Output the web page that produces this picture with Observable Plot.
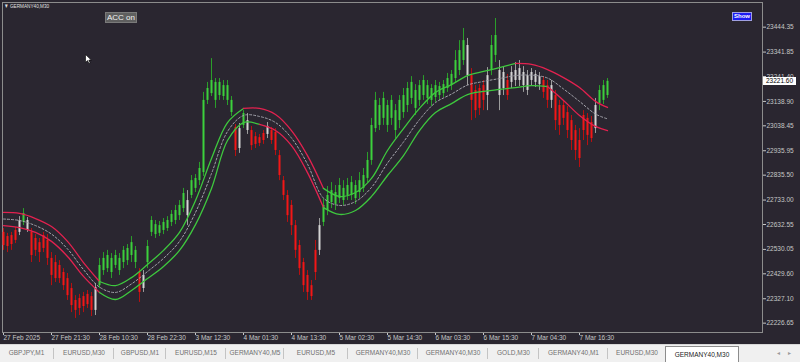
<!DOCTYPE html>
<html><head><meta charset="utf-8">
<script src="https://cdn.jsdelivr.net/npm/d3@7"></script>
<script src="https://cdn.jsdelivr.net/npm/@observablehq/plot@0.6"></script>
<style>
html,body{margin:0;padding:0;background:#2a2630;}
#wrap{position:relative;width:800px;height:362px;overflow:hidden;background:#2a2630;font-family:"Liberation Sans",Arial,sans-serif;}
#chart{position:absolute;left:0;top:0;}
.hdr{position:absolute;left:4px;top:3px;color:#e0e0e0;font-size:6px;line-height:7px;white-space:nowrap;transform:scaleX(0.78);transform-origin:left top;}
.acc{position:absolute;left:105px;top:12px;width:32px;height:11px;background:#5f5f5f;border:1px solid #7a7a7a;box-sizing:border-box;color:#f2f2f2;font-size:8px;line-height:10px;text-align:center;}
.show{position:absolute;left:732px;top:12px;width:20px;height:9px;background:#1c1cf2;border:1px solid #a0a0e0;box-sizing:border-box;color:#fff;font-size:6px;font-weight:bold;line-height:7px;text-align:center;}
.price{position:absolute;left:763px;width:33px;height:8px;background:#fff;color:#000;font-size:6.5px;line-height:8px;text-align:center;}
#tabs{position:absolute;left:0;top:344px;width:800px;height:18px;background:#f0f0f0;border-top:1px solid #d8d8d8;box-sizing:border-box;}
.tab{position:absolute;top:0;height:17px;line-height:16px;font-size:6.5px;color:#707070;text-align:center;white-space:nowrap;}
.tab.sep{border-left:1px solid #c4c4c4;height:11px;top:3px;line-height:10px;}
.tab.active{background:#fff;border:1px solid #8c8c8c;border-bottom:none;color:#222;top:1px;height:16px;line-height:15px;}
.arr{position:absolute;top:4px;font-size:6px;color:#9a9a9a;}
</style></head><body>
<div id="wrap">
  <div id="chart"></div>
  <div class="hdr">▼ GERMANY40,M30</div>
  <div class="acc">ACC on</div>
  <div class="show">Show</div>
  <svg style="position:absolute;left:85px;top:54px" width="8" height="11"><path d="M0.5,0.5 L0.5,8.5 L2.5,6.6 L4,9.6 L5.2,9 L3.8,6.1 L6.3,6.1 Z" fill="#fff" stroke="#000" stroke-width="0.6"/></svg>
  <div id="tabs"></div>
</div>
<script>
// ---- time axis ----
const tickIdx = [0,12,24,36,48,60,72,84,96,108,120,132,144];
const tickLabels = ["27 Feb 2025","27 Feb 21:30","28 Feb 10:30","28 Feb 22:30","3 Mar 12:30","4 Mar 01:30","4 Mar 13:30","5 Mar 02:30","5 Mar 14:30","6 Mar 03:30","6 Mar 15:30","7 Mar 04:30","7 Mar 16:30"];
// ---- price axis ----
const priceTicks = [23444.35,23341.85,23241.40,23138.90,23038.45,22935.95,22835.50,22733.00,22632.55,22530.05,22429.60,22327.10,22226.65];
const lastPrice = 23221.60;
// ---- candles (GERMANY40, M30) ----
const open = [22600,22583,22587,22608,22600,22641,22649,22600,22575,22558,
22587,22567,22493,22476,22464,22435,22410,22369,22320,22328,
22336,22345,22336,22279,22381,22443,22451,22435,22464,22443,
22476,22484,22505,22476,22435,22369,22476,22600,22591,22596,
22608,22616,22641,22649,22669,22698,22731,22752,22781,22813,
22846,23143,23171,23143,23163,23159,23143,23093,23032,22945,
23040,23060,23019,22994,22990,23007,23003,23019,23011,22916,
22813,22752,22711,22628,22546,22476,22423,22381,22526,22526,
22641,22690,22723,22715,22739,22731,22752,22752,22739,22764,
22781,22822,22896,23027,23040,23069,23040,23069,23019,23060,
23093,23122,23151,23110,23143,23163,23151,23143,23155,23163,
23171,23192,23204,23233,23266,23307,23369,23245,23184,23192,
23204,23163,23266,23328,23266,23192,23225,23217,23225,23274,
23258,23184,23258,23250,23241,23225,23204,23143,23163,23122,
23122,23093,23060,23019,22978,23081,23069,23052,23027,23130,
23143,23163];
const high = [22616,22596,22600,22620,22665,22698,22661,22616,22591,22575,
22600,22591,22517,22505,22484,22451,22431,22390,22340,22345,
22353,22361,22353,22390,22493,22517,22526,22513,22526,22513,
22542,22550,22583,22542,22451,22443,22567,22665,22649,22645,
22657,22665,22690,22711,22731,22781,22772,22834,22838,22888,
23176,23217,23315,23233,23233,23225,23225,23159,23044,23048,
23101,23089,23036,23011,23003,23019,23052,23032,23027,22937,
22830,22772,22731,22649,22567,22493,22443,22402,22567,22657,
22739,22789,22805,22793,22822,22813,22822,22830,22813,22846,
22863,22929,23069,23176,23151,23176,23143,23163,23126,23163,
23192,23217,23241,23208,23225,23245,23225,23208,23225,23217,
23225,23254,23266,23348,23389,23439,23398,23274,23204,23208,
23225,23278,23410,23480,23307,23282,23250,23282,23299,23307,
23282,23266,23274,23266,23258,23241,23225,23225,23184,23143,
23143,23118,23081,23040,23027,23101,23089,23077,23151,23204,
23225,23233];
const low = [22526,22517,22526,22554,22587,22628,22600,22476,22501,22476,
22517,22464,22381,22394,22390,22361,22320,22270,22246,22258,
22270,22287,22254,22258,22369,22423,22435,22410,22451,22423,
22451,22464,22476,22451,22312,22353,22451,22583,22575,22583,
22591,22604,22624,22632,22649,22682,22628,22739,22764,22793,
22830,23126,23159,23110,23143,23143,23122,23077,22912,22925,
23027,23003,22937,22945,22953,22962,22986,22962,22916,22813,
22731,22641,22587,22493,22423,22353,22320,22320,22402,22505,
22624,22669,22698,22690,22719,22711,22731,22731,22715,22739,
22764,22805,22876,23011,23019,23040,23011,23040,22986,23027,
23069,23093,23126,23081,23118,23143,23126,23118,23134,23143,
23155,23176,23184,23217,23245,23287,23204,23060,23069,23081,
23101,23101,23245,23299,23101,23163,23143,23192,23200,23200,
23176,23163,23204,23196,23184,23151,23110,23110,23019,22999,
23040,22986,22937,22896,22867,22978,22957,22970,23007,23101,
23126,23151];
const close = [22546,22542,22550,22567,22649,22678,22608,22505,22526,22517,
22534,22493,22423,22410,22410,22381,22340,22299,22279,22287,
22295,22303,22279,22373,22464,22493,22505,22493,22505,22493,
22526,22534,22558,22526,22353,22423,22542,22649,22632,22628,
22641,22649,22674,22690,22711,22760,22669,22813,22822,22863,
23143,23192,23225,23217,23217,23204,23204,23143,22937,23027,
23089,23019,22957,22962,22966,22978,23036,22978,22937,22834,
22752,22669,22628,22526,22451,22381,22353,22336,22435,22628,
22711,22752,22772,22764,22793,22781,22793,22805,22793,22813,
22834,22896,23040,23143,23122,23151,23122,23143,23101,23143,
23163,23192,23217,23184,23204,23225,23204,23192,23204,23200,
23208,23233,23250,23307,23348,23389,23245,23143,23101,23110,
23143,23245,23369,23410,23163,23258,23163,23258,23266,23225,
23204,23245,23225,23217,23208,23176,23143,23204,23060,23040,
23069,23019,22978,22937,22904,23019,22999,22986,23122,23184,
23204,23221.6];
// candle colour class: g = green (up trend), r = red (down trend), w = neutral
const kind = ("rrrrwgwrrr"+"rrrrrrrrrr"+"rrrwgggggg"+"ggggrwgggg"+"ggggggwggg"+
"ggggggggrw"+"gwrrrrwrrr"+"rrrrrrrrrw"+"gggggggggg"+"gggggggggg"+
"gggggggggg"+"ggggggwrrr"+"rwggwwrwww"+"wwwwwrrwrr"+"rrrrrrrrwg"+"gg").split("");
// ---- envelope bands (sampled) ----
const bandIdx = [0,4,8,12,16,20,24,28,32,36,40,44,48,52,56,60,64,68,72,76,80,84,88,92,96,100,104,108,112,116,120,124,128,132,136,140,144,148,151];
const upperBand = [22682,22678,22657,22624,22563,22476,22398,22381,22414,22468,22526,22600,22731,22904,23052,23110,23110,23085,23019,22916,22781,22748,22764,22822,22937,23027,23110,23176,23208,23245,23262,23278,23295,23291,23270,23237,23196,23139,23114];
const midBand = [22655,22649,22628,22593,22532,22447,22375,22353,22388,22439,22493,22563,22682,22842,23015,23081,23077,23052,22988,22881,22741,22711,22727,22785,22885,22972,23064,23134,23169,23206,23221,23233,23245,23247,23235,23190,23139,23087,23067];
const lowerBand = [22628,22620,22600,22563,22501,22419,22353,22324,22361,22410,22460,22526,22632,22781,22978,23052,23044,23019,22957,22846,22702,22674,22690,22748,22834,22916,23019,23093,23130,23167,23180,23188,23196,23204,23200,23143,23081,23036,23019];
const upperTrend = ["dn","dn","dn","dn","dn","dn","dn","up","up","up","up","up","up","up","up","up","dn","dn","dn","dn","dn","up","up","up","up","up","up","up","up","up","up","up","up","dn","dn","dn","dn","dn","dn"];
const lowerTrend = ["dn","dn","dn","dn","dn","dn","dn","up","up","up","up","up","up","up","up","up","up","dn","dn","dn","dn","up","up","up","up","up","up","up","up","up","up","up","up","up","up","dn","dn","dn","dn"];
// ---- tabs ----
const tabNames = ["GBPJPY,M1","EURUSD,M30","GBPUSD,M1","EURUSD,M15","GERMANY40,M5","EURUSD,M5","GERMANY40,M30","GERMANY40,M30","GOLD,M30","GERMANY40,M1","EURUSD,M30","GERMANY40,M30"];

const bodyCol = {g:"#3cd03c", r:"#f41616", w:"#d4d4d4"};
const wickCol = {g:"#2a9e2a", r:"#b81010", w:"#9c9c9c"};
const trendCol = {up:"#3ec83e", dn:"#e3214f"};

const candles = open.map((o, i) => ({i, o, h: high[i], l: low[i], c: close[i], k: kind[i]}));

function segments(vals, trend) {
  const out = []; let run = 0;
  for (let k = 0; k < bandIdx.length; k++) {
    if (k > 0 && trend[k] !== trend[k-1]) {
      run++;
      out.push({x: bandIdx[k-1], y: vals[k-1], run, t: trend[k]});
    }
    out.push({x: bandIdx[k], y: vals[k], run, t: trend[k]});
  }
  return out;
}
const upSeg = segments(upperBand, upperTrend);
const loSeg = segments(lowerBand, lowerTrend);
const midPts = bandIdx.map((x, k) => ({x, y: midBand[k]}));

const plot = Plot.plot({
  width: 800, height: 345,
  marginLeft: 2, marginRight: 38, marginTop: 2, marginBottom: 13,
  style: {background: "transparent", color: "#c6c6c6", fontSize: "6.5px", fontFamily: "'Liberation Sans', Arial, sans-serif", overflow: "visible"},
  color: {type: "identity"},
  x: {type: "linear", domain: [-0.25, 189.75], ticks: tickIdx, tickFormat: d => tickLabels[tickIdx.indexOf(d)], tickSize: 3, tickPadding: 0, label: null},
  y: {domain: [22188.2, 23545.8], ticks: priceTicks, tickFormat: d3.format(".2f"), axis: "right", tickSize: 3, tickPadding: 1, label: null},
  marks: [
    Plot.frame({stroke: "#8c8c8c"}),
    Plot.ruleX(candles, {x: "i", y1: "l", y2: "h", stroke: d => wickCol[d.k], strokeWidth: 1}),
    Plot.ruleX(candles, {x: "i", y1: "o", y2: "c", stroke: d => bodyCol[d.k], strokeWidth: 2}),
    Plot.line(midPts, {x: "x", y: "y", stroke: "#a4a4ac", strokeWidth: 1, strokeDasharray: "2,2", curve: "catmull-rom"}),
    Plot.line(upSeg, {x: "x", y: "y", z: "run", stroke: d => trendCol[d.t], strokeWidth: 1.3, curve: "catmull-rom"}),
    Plot.line(loSeg, {x: "x", y: "y", z: "run", stroke: d => trendCol[d.t], strokeWidth: 1.3, curve: "catmull-rom"})
  ]
});
document.getElementById("chart").appendChild(plot);
plot.querySelectorAll('g[aria-label^="x-axis"]').forEach(g => g.setAttribute("text-anchor", "start"));

// current price label positioned via the y scale
const py = plot.scale("y").apply(lastPrice);
const lab = document.createElement("div");
lab.className = "price";
lab.style.top = (py - 3.5) + "px";
lab.textContent = d3.format(".2f")(lastPrice);
document.getElementById("wrap").appendChild(lab);

// tabs bar
const tabBox = [[0,53],[53,60],[113,52],[165,60],[225,58],[283,64],[347,70],[417,70],[487,51],[538,69],[607,58],[665,72]];
const tabs = document.getElementById("tabs");
tabNames.forEach((n, k) => {
  const d = document.createElement("div");
  const active = k === tabNames.length - 1;
  d.className = "tab" + (active ? " active" : (k > 0 ? " sep" : ""));
  d.style.left = tabBox[k][0] + "px";
  d.style.width = tabBox[k][1] + "px";
  d.textContent = n;
  tabs.appendChild(d);
});
["◂","▸"].forEach((a, k) => {
  const d = document.createElement("div");
  d.className = "arr"; d.style.left = (777 + k * 11) + "px"; d.textContent = a;
  tabs.appendChild(d);
});
</script>
</body></html>
